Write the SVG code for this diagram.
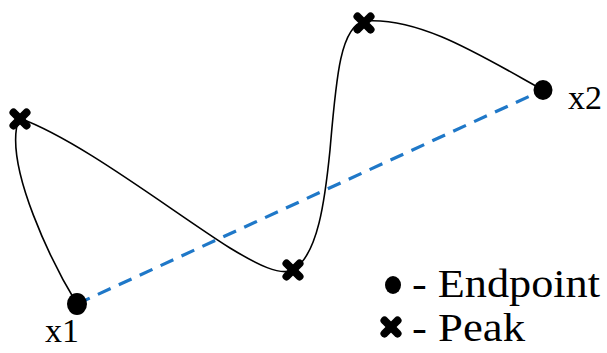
<svg xmlns="http://www.w3.org/2000/svg" xmlns:xlink="http://www.w3.org/1999/xlink" width="607" height="353" viewBox="0 0 607 353">
<style>
.curve{fill:none;stroke:#000;stroke-width:1.6}
.base{stroke:#1f78c8;stroke-width:3.2;stroke-dasharray:14 9;fill:none}
.cross{stroke:#000;stroke-width:8;stroke-linecap:round}
</style>
<defs>
<g id="peak"><line class="cross" x1="-6.5" y1="-6.5" x2="6.5" y2="6.5"/><line class="cross" x1="-6.5" y1="6.5" x2="6.5" y2="-6.5"/></g>
</defs>
<rect width="607" height="353" fill="#fff"/>
<g id="connectors">
<path class="base" d="M77,304 L543,90"/>
<path class="curve" d="M77,304 C55,268 2,165 19,118 C80,140 170,210 230,248 C258,265 280,276 293,270 C318,255 325,200 330,150 C336,80 340,25 365,21 C420,17 480,55 543,90"/>
</g>
<g font-family="Liberation Serif, Times New Roman, serif" fill="#000">
<g id="x1"><ellipse cx="77" cy="304" rx="10" ry="11"/><text x="45" y="342" font-size="34">x1</text></g>
<g id="x2"><ellipse cx="543" cy="90" rx="9.5" ry="10"/><text x="568" y="109" font-size="34">x2</text></g>
<g id="peak1"><use xlink:href="#peak" x="20" y="119"/></g>
<g id="peak2"><use xlink:href="#peak" x="293" y="270"/></g>
<g id="peak3"><use xlink:href="#peak" x="364" y="23"/></g>
<g id="legend">
<ellipse cx="393" cy="285" rx="8" ry="9"/>
<text x="412" y="297" font-size="39" textLength="188" lengthAdjust="spacingAndGlyphs">- Endpoint</text>
<use xlink:href="#peak" x="391" y="327"/>
<text x="412" y="341" font-size="39" textLength="113" lengthAdjust="spacingAndGlyphs">- Peak</text>
</g>
</g>
</svg>
